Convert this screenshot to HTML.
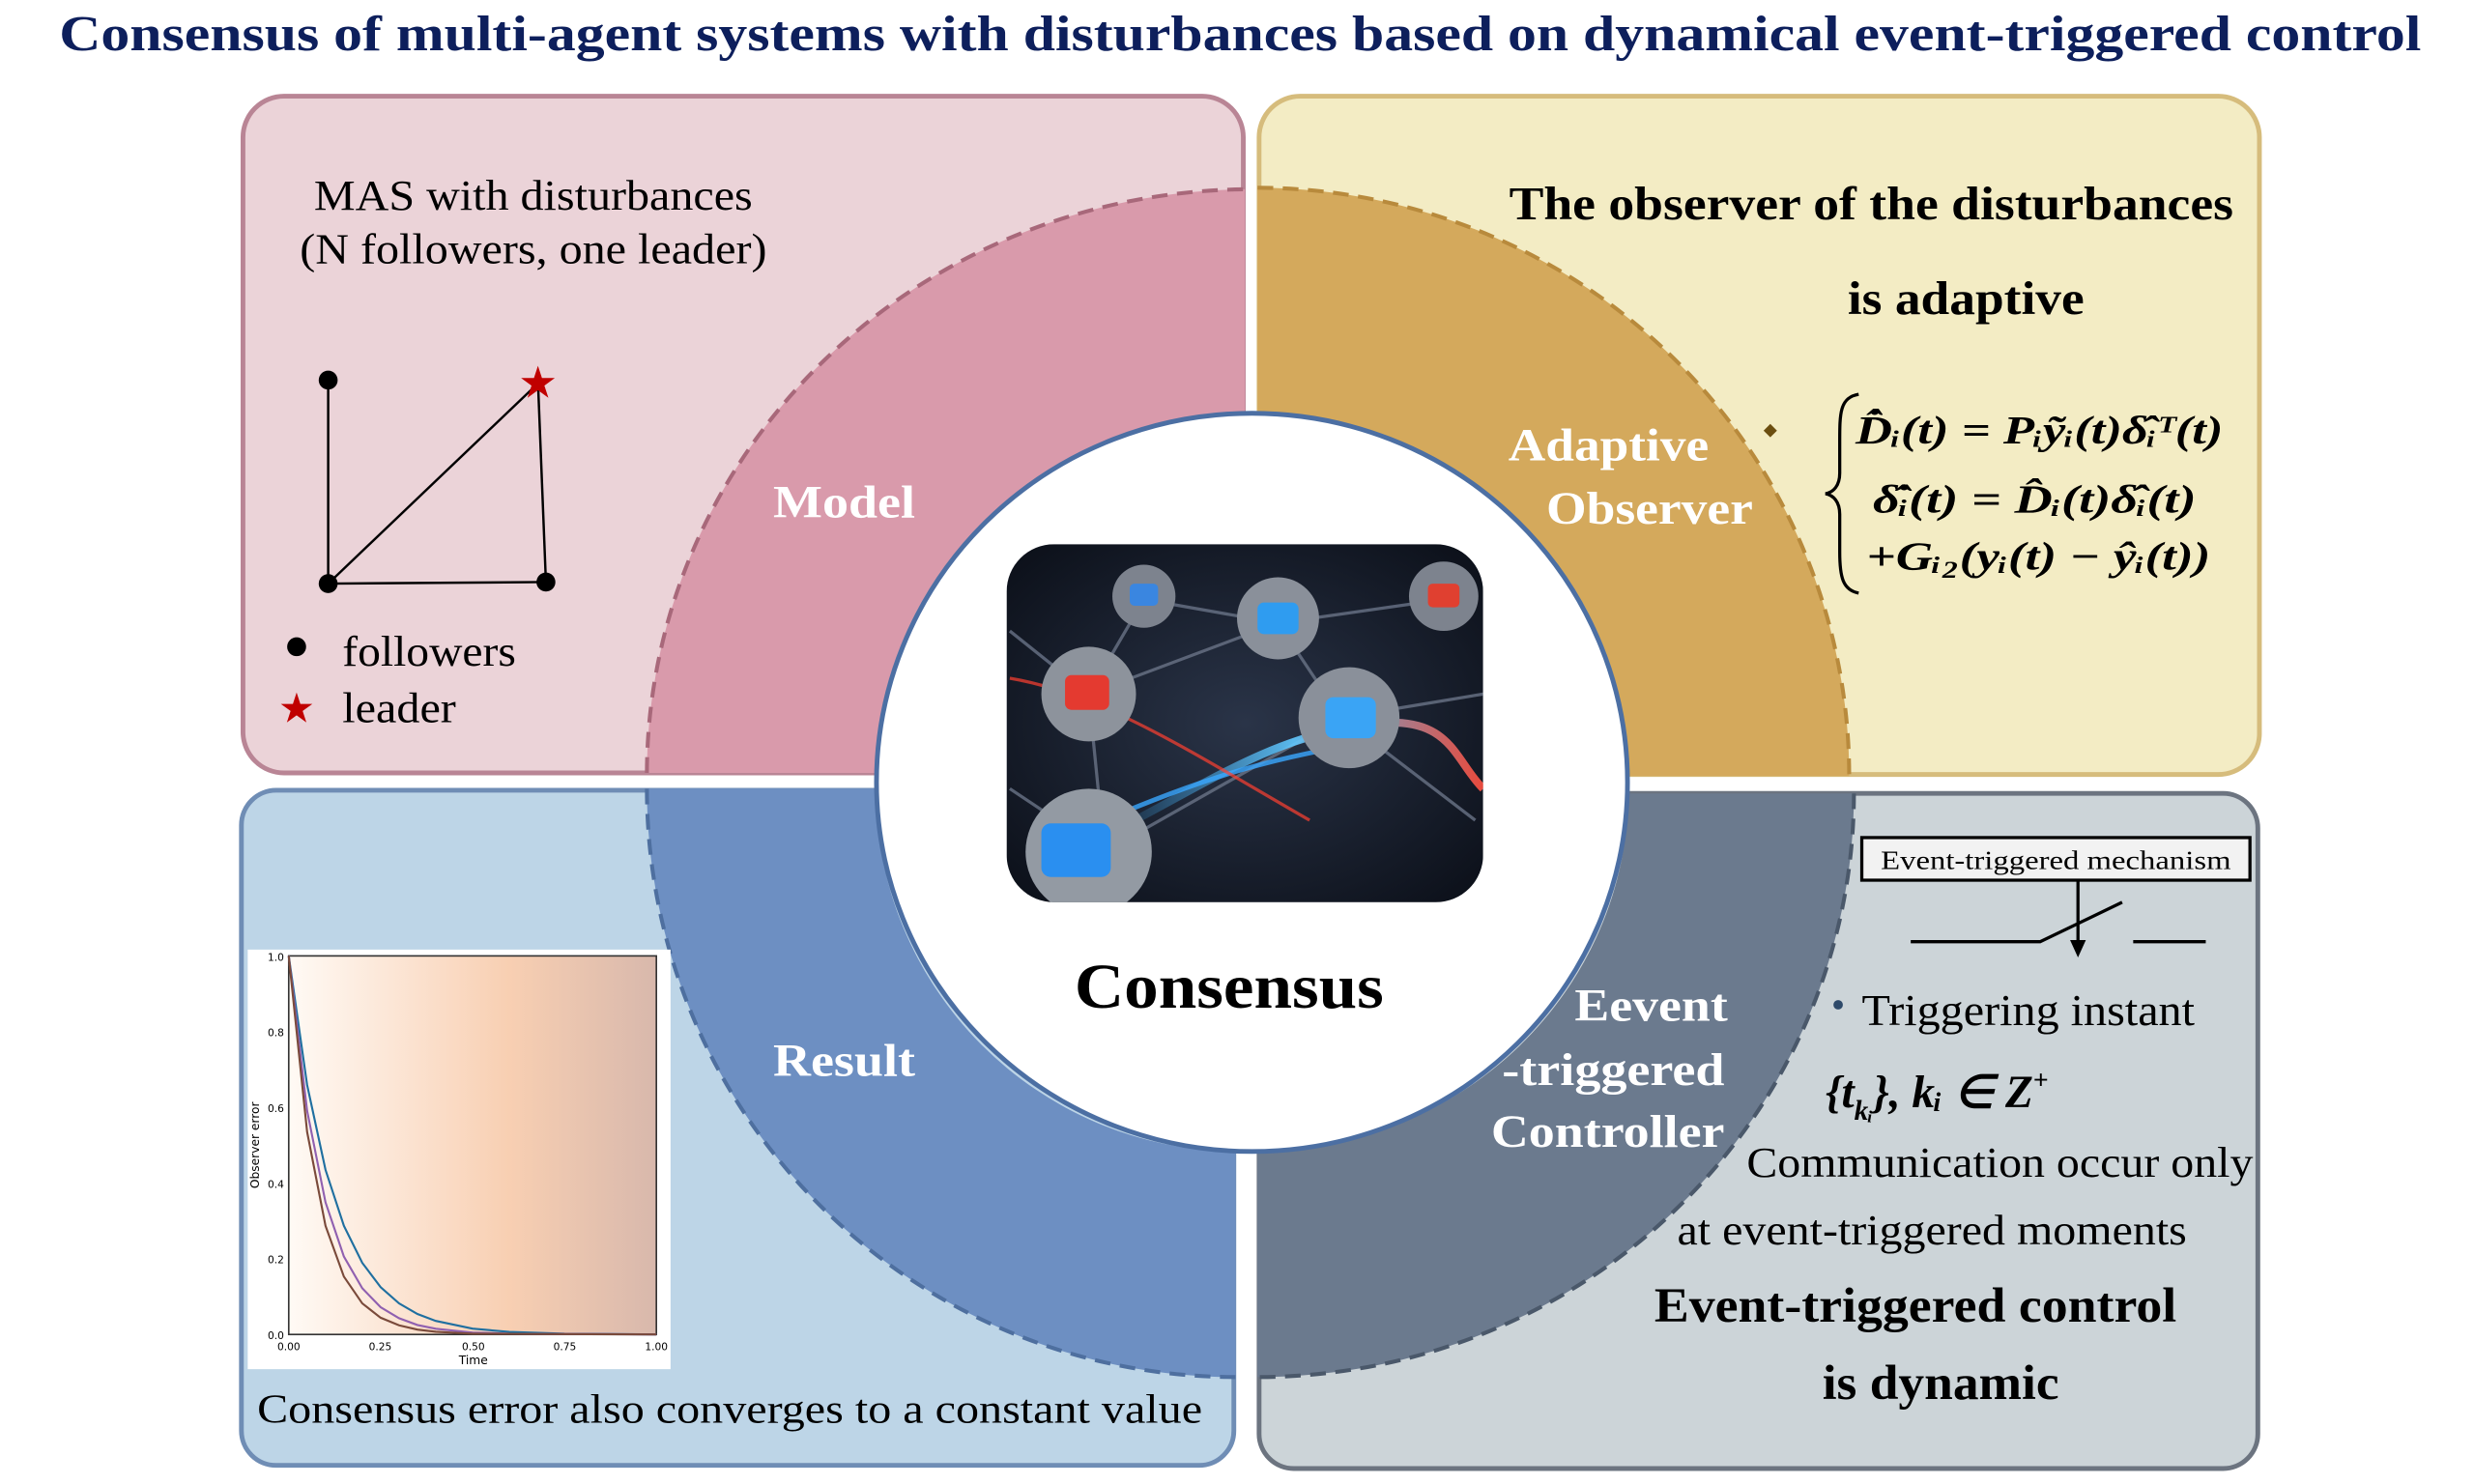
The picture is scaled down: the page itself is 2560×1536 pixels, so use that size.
<!DOCTYPE html>
<html><head><meta charset="utf-8"><style>
html,body{margin:0;padding:0;background:#fff;}
svg{display:block;}
text{font-family:"Liberation Serif",serif;}
text.sans{font-family:"DejaVu Sans",sans-serif;}
</style></head><body>
<svg width="2560" height="1536" viewBox="0 0 1568 940.8" preserveAspectRatio="none" xmlns="http://www.w3.org/2000/svg">
<defs>
<linearGradient id="chart" x1="0" x2="1" y1="0" y2="0">
<stop offset="0" stop-color="#fffaf5"/><stop offset="0.6" stop-color="#f8cfb2"/><stop offset="1" stop-color="#d8b8ac"/>
</linearGradient>
<radialGradient id="img" cx="0.5" cy="0.5" r="0.7">
<stop offset="0" stop-color="#2a3448"/><stop offset="1" stop-color="#0b0f18"/>
</radialGradient>
<linearGradient id="beam" x1="0" x2="1"><stop offset="0" stop-color="#3ab0ff" stop-opacity="0"/><stop offset="0.5" stop-color="#60c8ff"/><stop offset="1" stop-color="#ff5040"/></linearGradient>
<clipPath id="imgclip"><rect x="638" y="345" width="302" height="227" rx="30"/></clipPath>
</defs>
<rect width="1568" height="940.8" fill="#fff"/>
<text x="786" y="32" text-anchor="middle" font-size="32" font-weight="bold" fill="#0d1f5c" textLength="1497" lengthAdjust="spacingAndGlyphs">Consensus of multi-agent systems with disturbances based on dynamical event-triggered control</text>

<rect x="154" y="61" width="634" height="429" rx="26" fill="#ebd3d8" stroke="#b98595" stroke-width="3"/>
<rect x="798" y="61" width="634" height="430" rx="26" fill="#f3ecc4" stroke="#d6bc7c" stroke-width="3"/>
<rect x="153" y="501" width="629" height="428" rx="22" fill="#bdd5e7" stroke="#6f8db5" stroke-width="3"/>
<rect x="798" y="503" width="633" height="428" rx="22" fill="#ccd4d8" stroke="#6c7480" stroke-width="3"/>

<path d="M410,490 A383,371 0 0 1 789,120 L789,262 A238,230 0 0 0 555,490 Z" fill="#d99aab"/>
<path d="M410,490 A383,371 0 0 1 789,120" fill="none" stroke="#a8687a" stroke-width="2.5" stroke-dasharray="10,6"/>
<path d="M797,119 A376,373 0 0 1 1172,492 L1032,492 A238,230 0 0 0 797,262 Z" fill="#d4a95c"/>
<path d="M797,119 A376,373 0 0 1 1172,492" fill="none" stroke="#b88a3c" stroke-width="2.5" stroke-dasharray="10,6"/>
<path d="M410,500 A373,373 0 0 0 783,873 L783,730 A230,230 0 0 1 555,500 Z" fill="#6d8fc2"/>
<path d="M410,500 A373,373 0 0 0 783,873" fill="none" stroke="#4e6f9f" stroke-width="2.5" stroke-dasharray="10,6"/>
<path d="M1175,503 A378,370 0 0 1 797,873 L797,730 A236,228 0 0 0 1032,503 Z" fill="#6b7a8e"/>
<path d="M1175,503 A378,370 0 0 1 797,873" fill="none" stroke="#4a586a" stroke-width="2.5" stroke-dasharray="10,6"/>

<ellipse cx="793.5" cy="496" rx="238" ry="234" fill="#fff" stroke="#4c6fa3" stroke-width="3"/>

<g clip-path="url(#imgclip)">
<rect x="638" y="345" width="302" height="227" fill="url(#img)"/>
<g stroke="#6a7487" stroke-width="2" opacity="0.8">
<line x1="690" y1="440" x2="810" y2="395"/><line x1="810" y1="395" x2="915" y2="380"/><line x1="690" y1="440" x2="700" y2="540"/>
<line x1="700" y1="540" x2="850" y2="455"/><line x1="810" y1="395" x2="850" y2="455"/><line x1="850" y1="455" x2="935" y2="520"/>
<line x1="725" y1="380" x2="690" y2="440"/><line x1="640" y1="400" x2="690" y2="440"/><line x1="850" y1="455" x2="940" y2="440"/>
<line x1="700" y1="540" x2="640" y2="500"/><line x1="725" y1="380" x2="810" y2="395"/>
</g>
<path d="M700,530 C760,500 800,470 860,460 S920,480 940,500" stroke="url(#beam)" stroke-width="5" fill="none" opacity="0.9"/>
<path d="M700,520 C770,490 810,480 870,470" stroke="#3aa8ff" stroke-width="3" fill="none" opacity="0.8"/>
<path d="M640,430 C700,440 760,480 830,520" stroke="#ff4030" stroke-width="2" fill="none" opacity="0.7"/>
<circle cx="690" cy="440" r="30" fill="#8d939c"/><rect x="675" y="428" width="28" height="22" rx="4" fill="#e43a30"/>
<circle cx="810" cy="392" r="26" fill="#8a909a"/><rect x="797" y="382" width="26" height="20" rx="4" fill="#2f9cf0"/>
<circle cx="725" cy="378" r="20" fill="#7d838e"/><rect x="716" y="370" width="18" height="14" rx="3" fill="#3a86e0"/>
<circle cx="915" cy="378" r="22" fill="#7d838e"/><rect x="905" y="370" width="20" height="15" rx="3" fill="#e04030"/>
<circle cx="855" cy="455" r="32" fill="#8a909a"/><rect x="840" y="442" width="32" height="26" rx="5" fill="#3aa4f5"/>
<circle cx="690" cy="540" r="40" fill="#939aa3"/><rect x="660" y="522" width="44" height="34" rx="6" fill="#2a8ff0"/>
</g>

<text x="779" y="639" text-anchor="middle" font-size="40" font-weight="bold" fill="#000" textLength="196" lengthAdjust="spacingAndGlyphs">Consensus</text>

<g fill="#fff" font-weight="bold" font-size="29">
<text x="535" y="328" text-anchor="middle" textLength="90" lengthAdjust="spacingAndGlyphs">Model</text>
<text x="535" y="682" text-anchor="middle" textLength="90" lengthAdjust="spacingAndGlyphs">Result</text>
<text x="1083" y="292" text-anchor="end" textLength="127" lengthAdjust="spacingAndGlyphs">Adaptive</text>
<text x="1111" y="332" text-anchor="end" textLength="131" lengthAdjust="spacingAndGlyphs">Observer</text>
<text x="1095" y="647" text-anchor="end" textLength="97" lengthAdjust="spacingAndGlyphs">Eevent</text>
<text x="1093" y="688" text-anchor="end" textLength="141" lengthAdjust="spacingAndGlyphs">-triggered</text>
<text x="1093" y="727" text-anchor="end" textLength="148" lengthAdjust="spacingAndGlyphs">Controller</text>
</g>

<text x="338" y="133" text-anchor="middle" font-size="27" textLength="278" lengthAdjust="spacingAndGlyphs">MAS with disturbances</text>
<text x="338" y="167" text-anchor="middle" font-size="27" textLength="296" lengthAdjust="spacingAndGlyphs">(N followers, one leader)</text>
<g stroke="#000" stroke-width="1.5">
<line x1="208" y1="241" x2="208" y2="370"/><line x1="208" y1="370" x2="346" y2="369"/>
<line x1="208" y1="370" x2="341" y2="243"/><line x1="341" y1="243" x2="346" y2="369"/>
</g>
<circle cx="208" cy="241" r="6"/><circle cx="208" cy="370" r="6"/><circle cx="346" cy="369" r="6"/>
<text x="341" y="252" text-anchor="middle" font-size="28" fill="#c00000">★</text>
<circle cx="188" cy="410" r="6"/>
<text x="217" y="422" font-size="27" textLength="110" lengthAdjust="spacingAndGlyphs">followers</text>
<text x="188" y="458" text-anchor="middle" font-size="26" fill="#c00000">★</text>
<text x="217" y="458" font-size="27" textLength="72" lengthAdjust="spacingAndGlyphs">leader</text>

<text x="1186" y="139" text-anchor="middle" font-size="30" font-weight="bold" textLength="459" lengthAdjust="spacingAndGlyphs">The observer of the disturbances</text>
<text x="1246" y="199" text-anchor="middle" font-size="30" font-weight="bold" textLength="150" lengthAdjust="spacingAndGlyphs">is adaptive</text>
<rect x="1119" y="270" width="6" height="6" fill="#6b4e10" transform="rotate(45 1122 273)"/>
<path d="M1178,250 C1166,252 1166,262 1166,280 L1166,300 C1166,308 1162,312 1157,313 C1162,314 1166,318 1166,326 L1166,350 C1166,366 1168,374 1178,376" fill="none" stroke="#000" stroke-width="2"/>
<g font-size="25" font-weight="bold" font-style="italic">
<text x="1176" y="281" textLength="233" lengthAdjust="spacingAndGlyphs">D̂̇ᵢ(t) = Pᵢỹᵢ(t)δ̂ᵢᵀ(t)</text>
<text x="1187" y="325" textLength="205" lengthAdjust="spacingAndGlyphs">δ̂̇ᵢ(t) = D̂ᵢ(t)δ̂ᵢ(t)</text>
<text x="1183" y="361" textLength="218" lengthAdjust="spacingAndGlyphs">+Gᵢ₂(yᵢ(t) − ŷᵢ(t))</text>
</g>

<rect x="157" y="602" width="268" height="266" fill="#fff"/>
<rect x="183" y="606" width="233" height="240" fill="url(#chart)" stroke="#333" stroke-width="1"/>
<polyline fill="none" stroke="#1f6fa0" stroke-width="1.3" points="183,606 194.65,687.8 206.3,741.6 217.95,777.1 229.6,800.6 241.25,816 252.9,826.3 264.55,833 276.2,837.4 299.5,842.3 322.8,844.4 357.75,845.5 416,846"/>
<polyline fill="none" stroke="#9060b0" stroke-width="1.3" points="183,606 194.65,704.2 206.3,762.2 217.95,796.6 229.6,816.7 241.25,828.7 252.9,835.7 264.55,840 276.2,842.4 299.5,844.8 322.8,845.5 416,846"/>
<polyline fill="none" stroke="#7a4a3a" stroke-width="1.3" points="183,606 194.65,717.6 206.3,777.1 217.95,809.3 229.6,826.3 241.25,835.4 252.9,840.2 264.55,842.9 276.2,844.3 299.5,845.5 416,846"/>
<g font-size="6.5" fill="#000">
<text class="sans" x="180" y="609" text-anchor="end">1.0</text><text class="sans" x="180" y="657" text-anchor="end">0.8</text>
<text class="sans" x="180" y="705" text-anchor="end">0.6</text><text class="sans" x="180" y="753" text-anchor="end">0.4</text>
<text class="sans" x="180" y="801" text-anchor="end">0.2</text><text class="sans" x="180" y="849" text-anchor="end">0.0</text>
<text class="sans" x="183" y="856" text-anchor="middle">0.00</text><text class="sans" x="241" y="856" text-anchor="middle">0.25</text>
<text class="sans" x="300" y="856" text-anchor="middle">0.50</text><text class="sans" x="358" y="856" text-anchor="middle">0.75</text>
<text class="sans" x="416" y="856" text-anchor="middle">1.00</text>
<text class="sans" x="300" y="865" text-anchor="middle" font-size="7.5">Time</text>
<text class="sans" x="0" y="0" font-size="7.5" text-anchor="middle" transform="translate(164,726) rotate(-90)">Observer error</text>
</g>
<text x="163" y="902" font-size="26" textLength="599" lengthAdjust="spacingAndGlyphs">Consensus error also converges to a constant value</text>

<rect x="1180" y="531" width="246" height="27" fill="#f2f2f2" stroke="#000" stroke-width="2"/>
<text x="1303" y="551" text-anchor="middle" font-size="17" textLength="222" lengthAdjust="spacingAndGlyphs">Event-triggered mechanism</text>
<g stroke="#000" stroke-width="2" fill="none">
<polyline points="1211,597 1293,597 1345,572"/>
<line x1="1352" y1="597" x2="1398" y2="597"/>
<line x1="1317" y1="558" x2="1317" y2="598"/>
</g>
<path d="M1312,596 L1322,596 L1317,607 Z" fill="#000"/>
<circle cx="1165" cy="637" r="3" fill="#2e4a6a"/>
<text x="1180" y="650" font-size="28" textLength="211" lengthAdjust="spacingAndGlyphs">Triggering instant</text>
<text x="1157" y="702" font-size="29" font-weight="bold" font-style="italic">{t<tspan font-size="18" dy="8">kᵢ</tspan><tspan dy="-8">}, kᵢ ∈ Z</tspan><tspan font-size="17" dy="-12" font-style="normal">+</tspan></text>
<text x="1107" y="746" font-size="27" textLength="321" lengthAdjust="spacingAndGlyphs">Communication occur only</text>
<text x="1063" y="789" font-size="27" textLength="323" lengthAdjust="spacingAndGlyphs">at event-triggered moments</text>
<text x="1214" y="838" text-anchor="middle" font-size="31" font-weight="bold" textLength="331" lengthAdjust="spacingAndGlyphs">Event-triggered control</text>
<text x="1230" y="887" text-anchor="middle" font-size="31" font-weight="bold" textLength="150" lengthAdjust="spacingAndGlyphs">is dynamic</text>
</svg>
</body></html>
